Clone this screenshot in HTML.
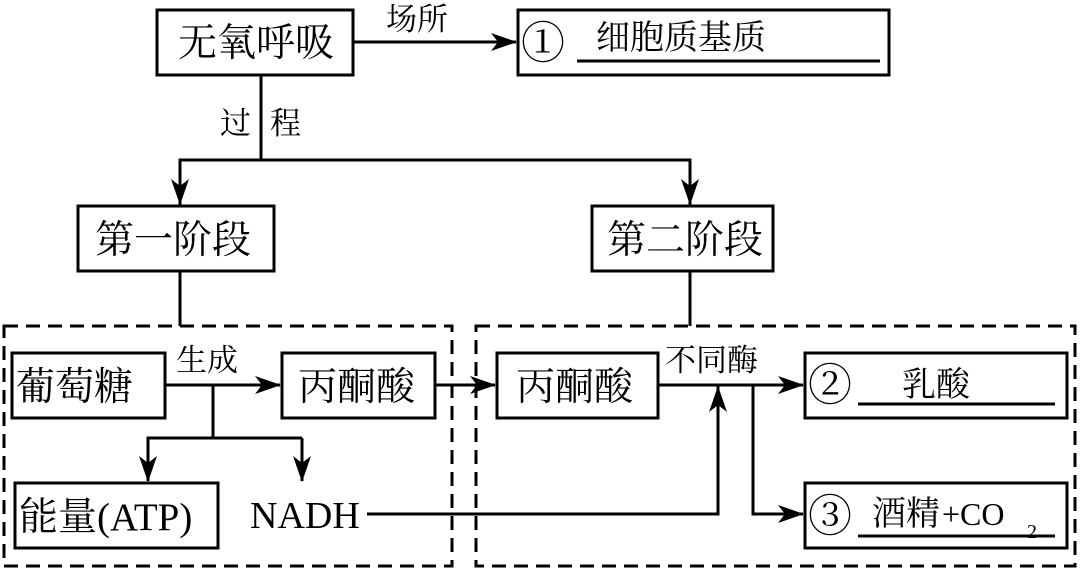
<!DOCTYPE html>
<html><head><meta charset="utf-8"><style>
html,body{margin:0;padding:0;background:#fff;}
svg{display:block;}
text{font-family:"Liberation Serif","Noto Serif CJK SC",serif;fill:#000;}
</style></head><body>
<svg width="1080" height="571" viewBox="0 0 1080 571" xmlns="http://www.w3.org/2000/svg">
<defs>
<marker id="b" markerWidth="26" markerHeight="18" refX="25" refY="9" orient="auto" markerUnits="userSpaceOnUse" viewBox="0 0 26 18"><path d="M0,0 L26,9 L0,18 L7,9 Z" fill="#000"/></marker></defs>
<g fill="none" stroke="#000" stroke-width="3">
<rect x="157" y="10" width="196" height="65"/>
<rect x="518" y="10" width="371" height="65"/>
<rect x="78" y="206" width="196" height="65"/>
<rect x="592" y="206" width="181" height="65"/>
<rect x="12" y="353" width="153" height="65"/>
<rect x="282" y="353" width="153" height="65"/>
<rect x="497" y="353" width="161" height="65"/>
<rect x="805" y="353" width="262" height="65"/>
<rect x="15" y="483" width="203" height="65"/>
<rect x="805" y="483" width="262" height="65"/>
</g>
<g fill="none" stroke="#000" stroke-width="3" stroke-dasharray="14,8">
<rect x="4" y="326" width="448" height="240"/>
<rect x="476" y="326" width="599" height="240"/>
</g>
<g fill="none" stroke="#000" stroke-width="3">
<line x1="353" y1="42" x2="516" y2="42" marker-end="url(#b)"/>
<line x1="261" y1="75" x2="261" y2="160"/>
<polyline points="180,205 180,160 690,160 690,205"/>
<line x1="180" y1="160" x2="180" y2="204" marker-end="url(#b)"/>
<line x1="690" y1="160" x2="690" y2="204" marker-end="url(#b)"/>
<line x1="180" y1="271" x2="180" y2="326"/>
<line x1="690" y1="271" x2="690" y2="326"/>
<line x1="165" y1="385" x2="280" y2="385" marker-end="url(#b)"/>
<polyline points="213,385 213,438 148,438 148,480"/>
<line x1="148" y1="438" x2="148" y2="481" marker-end="url(#b)"/>
<line x1="213" y1="438" x2="302" y2="438"/>
<line x1="302" y1="438" x2="302" y2="481" marker-end="url(#b)"/>
<line x1="435" y1="385" x2="495" y2="385" marker-end="url(#b)"/>
<line x1="658" y1="385" x2="803" y2="385" marker-end="url(#b)"/>
<polyline points="367,514 718,514 718,385"/>
<line x1="718" y1="514" x2="718" y2="387" marker-end="url(#b)"/>
<polyline points="753,385 753,514 803,514"/>
<line x1="753" y1="514" x2="803" y2="514" marker-end="url(#b)"/>
<line x1="577" y1="61" x2="880" y2="61"/>
<line x1="858" y1="404" x2="1055" y2="404"/>
<line x1="858" y1="536" x2="1055" y2="536"/>
</g>
<g font-size="39">
<text x="178" y="56">无氧呼吸</text>
<text x="95" y="253">第一阶段</text>
<text x="607" y="253">第二阶段</text>
<text x="16" y="400">葡萄糖</text>
<text x="298" y="400">丙酮酸</text>
<text x="516" y="400">丙酮酸</text>
<text x="19" y="530">能量(ATP)</text>
</g>
<g font-size="38">
<text x="250" y="528">NADH</text>
</g>
<g font-size="44">
<text x="521" y="58">①</text>
<text x="808" y="400">②</text>
<text x="808" y="531">③</text>
</g>
<g font-size="31">
<text x="386" y="30">场所</text>
<text x="220" y="134">过</text>
<text x="270" y="134">程</text>
<text x="176" y="371">生成</text>
<text x="665" y="371">不同酶</text>
</g>
<g font-size="34">
<text x="596" y="49">细胞质基质</text>
<text x="902" y="396">乳酸</text>
<text x="872" y="525">酒精</text>
<text x="942" y="525" font-family="Liberation Sans, sans-serif" font-size="32">+CO</text>
<text x="1027" y="538" font-family="Liberation Sans, sans-serif" font-size="20">2</text>
</g>
</svg>
</body></html>
